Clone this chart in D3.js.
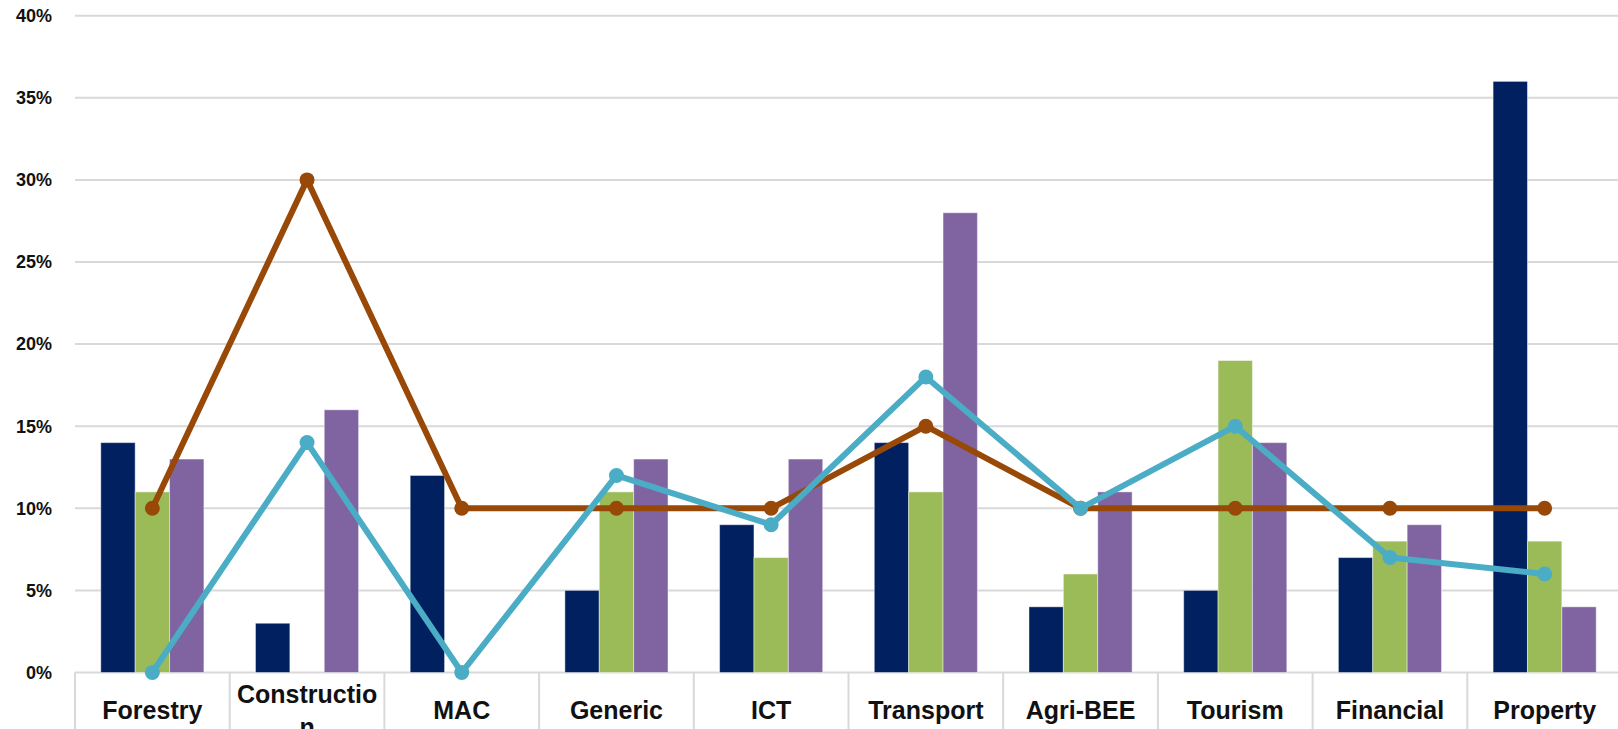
<!DOCTYPE html>
<html>
<head>
<meta charset="utf-8">
<script src="https://cdn.jsdelivr.net/npm/d3@7"></script>
<style>
  html, body { margin: 0; padding: 0; background: #fff; overflow: hidden; }
  svg { display: block; }
</style>
</head>
<body>
<div id="chart"></div>
<script>
  const W = 1618;
  const H = 729;

  // data (percent)
  const categories = ["Forestry", "Construction", "MAC", "Generic", "ICT", "Transport", "Agri-BEE", "Tourism", "Financial", "Property"];
  const barNavy = [14, 3, 12, 5, 9, 14, 4, 5, 7, 36];
  const barGreen = [11, 0, 0, 11, 7, 11, 6, 19, 8, 8];
  const barPurple = [13, 16, 0, 13, 13, 28, 11, 14, 9, 4];
  const lineBrown = [10, 30, 10, 10, 10, 15, 10, 10, 10, 10];
  const lineCyan = [0, 14, 0, 12, 9, 18, 10, 15, 7, 6];
  const yTicks = [0, 5, 10, 15, 20, 25, 30, 35, 40];

  const barSeries = [
    { key: "navy", values: barNavy, color: "#002060" },
    { key: "green", values: barGreen, color: "#9BBB59" },
    { key: "purple", values: barPurple, color: "#8064A2" }
  ];
  const lineSeries = [
    { key: "brown", values: lineBrown, color: "#984807" },
    { key: "cyan", values: lineCyan, color: "#4BACC6" }
  ];

  const GRID = "#d9d9d9";
  const FONT = "'Liberation Sans', Arial, sans-serif";

  const svg = d3.select("#chart").append("svg")
    .attr("width", W)
    .attr("height", H);

  const x = d3.scaleBand().domain(categories).range([75, 1622]).padding(0);
  const y = d3.scaleLinear().domain([0, 40]).range([672.5, 15.7]);
  const x1 = d3.scaleBand()
    .domain(barSeries.map((s) => s.key))
    .range([0, x.bandwidth()])
    .paddingInner(0)
    .paddingOuter(0.75);

  // gridlines
  svg.append("g")
    .selectAll("line")
    .data(yTicks)
    .join("line")
    .attr("x1", 75)
    .attr("x2", W)
    .attr("y1", (d) => y(d))
    .attr("y2", (d) => y(d))
    .attr("stroke", GRID)
    .attr("stroke-width", 2);

  // y labels
  svg.append("g")
    .selectAll("text")
    .data(yTicks)
    .join("text")
    .attr("x", 52)
    .attr("y", (d) => y(d))
    .attr("dy", "0.35em")
    .attr("text-anchor", "end")
    .attr("font-family", FONT)
    .attr("font-weight", "bold")
    .attr("font-size", 18)
    .attr("fill", "#111")
    .text((d) => d + "%");

  // category separators below axis
  const bounds = categories.map((c) => x(c)).concat([x.range()[1]]);
  svg.append("g")
    .selectAll("line")
    .data(bounds)
    .join("line")
    .attr("x1", (d) => d)
    .attr("x2", (d) => d)
    .attr("y1", y(0))
    .attr("y2", H)
    .attr("stroke", GRID)
    .attr("stroke-width", 2);

  // bars
  const groups = svg.append("g")
    .selectAll("g")
    .data(categories)
    .join("g")
    .attr("transform", (c) => `translate(${x(c)},0)`);

  groups.selectAll("rect")
    .data((c, i) => barSeries.map((s) => ({ key: s.key, color: s.color, v: s.values[i] })))
    .join("rect")
    .attr("x", (d) => x1(d.key))
    .attr("width", x1.bandwidth())
    .attr("y", (d) => y(d.v))
    .attr("height", (d) => y(0) - y(d.v))
    .attr("fill", (d) => d.color)
    .attr("stroke", "#ffffff")
    .attr("stroke-opacity", 0.45)
    .attr("stroke-width", 1);

  // lines
  const cx = (c) => x(c) + x.bandwidth() / 2;
  const lineGen = d3.line()
    .x((d) => cx(d.c))
    .y((d) => y(d.v));

  lineSeries.forEach((s) => {
    const pts = categories.map((c, i) => ({ c: c, v: s.values[i] }));
    const g = svg.append("g");
    g.append("path")
      .datum(pts)
      .attr("d", lineGen)
      .attr("fill", "none")
      .attr("stroke", s.color)
      .attr("stroke-width", 6)
      .attr("stroke-linejoin", "round");
    g.selectAll("circle")
      .data(pts)
      .join("circle")
      .attr("cx", (d) => cx(d.c))
      .attr("cy", (d) => y(d.v))
      .attr("r", 7.5)
      .attr("fill", s.color);
  });

  // category labels, wrapped by character like the original
  const maxW = x.bandwidth() - 8;
  const labels = svg.append("g")
    .selectAll("text")
    .data(categories)
    .join("text")
    .attr("text-anchor", "middle")
    .attr("font-family", FONT)
    .attr("font-weight", "bold")
    .attr("font-size", 25)
    .attr("fill", "#111");

  labels.each(function (c) {
    const t = d3.select(this);
    const lines = [];
    let cur = "";
    const probe = t.append("tspan");
    for (const ch of c) {
      probe.text(cur + ch);
      if (probe.node().getComputedTextLength() > maxW && cur.length) {
        lines.push(cur);
        cur = ch;
      } else {
        cur += ch;
      }
    }
    lines.push(cur);
    probe.remove();
    const lh = 33;
    const base = 719 - (lines.length - 1) * lh / 2;
    lines.forEach((ln, k) => {
      t.append("tspan")
        .attr("x", cx(c))
        .attr("y", base + k * lh)
        .text(ln);
    });
  });
</script>
</body>
</html>
